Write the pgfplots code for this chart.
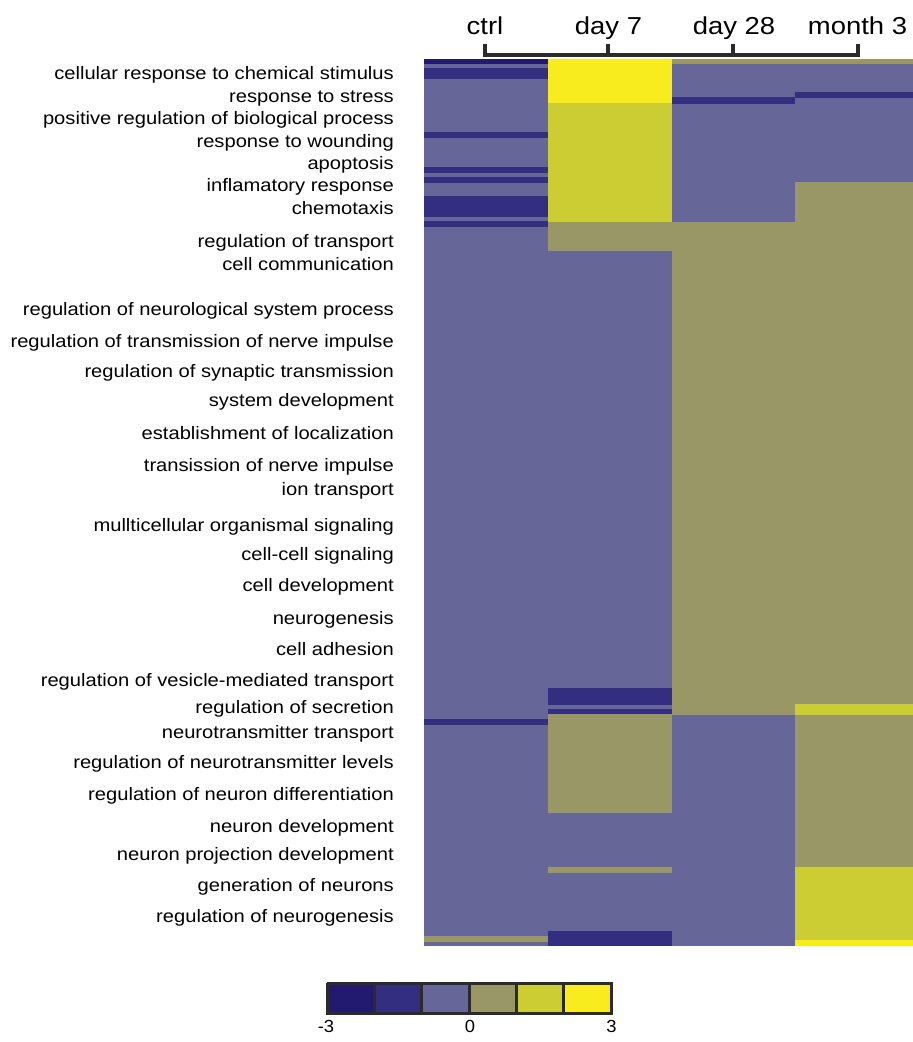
\documentclass[border=0pt]{standalone}
\usepackage{fontspec}
\setmainfont{Liberation Sans}
\usepackage{graphicx}
\usepackage{pgfplots}
\pgfplotsset{compat=1.18}
\definecolor{c1}{RGB}{34,26,112}
\definecolor{c2}{RGB}{51,46,128}
\definecolor{c3}{RGB}{102,102,153}
\definecolor{c4}{RGB}{153,151,102}
\definecolor{c5}{RGB}{204,204,51}
\definecolor{c6}{RGB}{248,236,30}
\definecolor{frame}{RGB}{43,43,43}
\newcommand{\lab}[2]{\node[anchor=mid east, inner sep=0pt, font=\fontsize{18}{20}\selectfont] at (axis cs:394,#1) {\scalebox{1.12}[1]{#2}};}
\newcommand{\head}[2]{\node[anchor=base, inner sep=0pt, font=\fontsize{24.5}{27}\selectfont] at (axis cs:#1,34) {\scalebox{1.12}[1]{#2}};}
\begin{document}
\begin{tikzpicture}
\begin{axis}[
  scale only axis, width=912pt, height=1042pt,
  xmin=0, xmax=912, ymin=0, ymax=1042, y dir=reverse,
  hide axis, clip=false, no markers,
  r1/.style={fill=c1, draw=c1, line width=0.2pt},
  r2/.style={fill=c2, draw=c2, line width=0.2pt},
  r3/.style={fill=c3, draw=c3, line width=0.2pt},
  r4/.style={fill=c4, draw=c4, line width=0.2pt},
  r5/.style={fill=c5, draw=c5, line width=0.2pt},
  r6/.style={fill=c6, draw=c6, line width=0.2pt},
]
\path (axis cs:0,0) rectangle (axis cs:912,1042);
% ---- ctrl ----
\addplot[r3] coordinates {(424,59.3) (548,59.3) (548,945) (424,945)};
\addplot[r1] coordinates {(424,59.3) (548,59.3) (548,63.3) (424,63.3)};
\addplot[r2] coordinates {(424,68.3) (548,68.3) (548,77.7) (424,77.7)};
\addplot[r2] coordinates {(424,131.7) (548,131.7) (548,137) (424,137)};
\addplot[r2] coordinates {(424,167.3) (548,167.3) (548,172.3) (424,172.3)};
\addplot[r2] coordinates {(424,176.7) (548,176.7) (548,181.7) (424,181.7)};
\addplot[r2] coordinates {(424,195.7) (548,195.7) (548,216) (424,216)};
\addplot[r2] coordinates {(424,221) (548,221) (548,226) (424,226)};
\addplot[r2] coordinates {(424,718.7) (548,718.7) (548,723.7) (424,723.7)};
\addplot[r4] coordinates {(424,935.7) (548,935.7) (548,940.7) (424,940.7)};
% ---- day 7 ----
\addplot[r3] coordinates {(548,59.3) (672,59.3) (672,945) (548,945)};
\addplot[r6] coordinates {(548,59.3) (672,59.3) (672,103.3) (548,103.3)};
\addplot[r5] coordinates {(548,103.3) (672,103.3) (672,221.7) (548,221.7)};
\addplot[r4] coordinates {(548,221.7) (672,221.7) (672,250) (548,250)};
\addplot[r2] coordinates {(548,688) (672,688) (672,704) (548,704)};
\addplot[r2] coordinates {(548,709) (672,709) (672,714) (548,714)};
\addplot[r4] coordinates {(548,714) (672,714) (672,812) (548,812)};
\addplot[r4] coordinates {(548,867) (672,867) (672,872) (548,872)};
\addplot[r2] coordinates {(548,930.7) (672,930.7) (672,945) (548,945)};
% ---- day 28 ----
\addplot[r3] coordinates {(672,59.3) (795,59.3) (795,945) (672,945)};
\addplot[r4] coordinates {(672,59.3) (795,59.3) (795,63.3) (672,63.3)};
\addplot[r2] coordinates {(672,97.3) (795,97.3) (795,103.3) (672,103.3)};
\addplot[r4] coordinates {(672,222) (795,222) (795,714) (672,714)};
% ---- month 3 ----
\addplot[r3] coordinates {(795,59.3) (912,59.3) (912,945) (795,945)};
\addplot[r4] coordinates {(795,59.3) (912,59.3) (912,63.3) (795,63.3)};
\addplot[r2] coordinates {(795,91.7) (912,91.7) (912,96.7) (795,96.7)};
\addplot[r4] coordinates {(795,182) (912,182) (912,867) (795,867)};
\addplot[r5] coordinates {(795,704) (912,704) (912,714) (795,714)};
\addplot[r5] coordinates {(795,867) (912,867) (912,940) (795,940)};
\addplot[r6] coordinates {(795,940) (912,940) (912,945) (795,945)};
% ---- bracket ----
\addplot[frame, line width=4pt, line join=miter] coordinates {(485,43.5) (485,55.3) (858.3,55.3) (858.3,43.5)};
\addplot[frame, line width=4pt] coordinates {(608.3,43.5) (608.3,55.3)};
\addplot[frame, line width=4pt] coordinates {(733.3,43.5) (733.3,55.3)};
\head{485}{ctrl}
\head{608.5}{day 7}
\head{734}{day 28}
\head{857.5}{month 3}
% ---- colour bar ----
\addplot[fill=c1, draw=frame, line width=3pt] coordinates {(327,983) (374.3,983) (374.3,1013) (327,1013) (327,983)};
\addplot[fill=c2, draw=frame, line width=3pt] coordinates {(374.3,983) (421.7,983) (421.7,1013) (374.3,1013) (374.3,983)};
\addplot[fill=c3, draw=frame, line width=3pt] coordinates {(421.7,983) (469,983) (469,1013) (421.7,1013) (421.7,983)};
\addplot[fill=c4, draw=frame, line width=3pt] coordinates {(469,983) (516.3,983) (516.3,1013) (469,1013) (469,983)};
\addplot[fill=c5, draw=frame, line width=3pt] coordinates {(516.3,983) (563.7,983) (563.7,1013) (516.3,1013) (516.3,983)};
\addplot[fill=c6, draw=frame, line width=3pt] coordinates {(563.7,983) (611,983) (611,1013) (563.7,1013) (563.7,983)};
\node[anchor=base, inner sep=0pt, font=\fontsize{17.5}{19}\selectfont] at (axis cs:326,1032) {\scalebox{1.05}[1]{-3}};
\node[anchor=base, inner sep=0pt, font=\fontsize{17.5}{19}\selectfont] at (axis cs:470,1032) {\scalebox{1.05}[1]{0}};
\node[anchor=base, inner sep=0pt, font=\fontsize{17.5}{19}\selectfont] at (axis cs:611.5,1032) {\scalebox{1.05}[1]{3}};
% ---- row labels ----
\lab{77}{cellular response to chemical stimulus}
\lab{99.5}{response to stress}
\lab{122}{positive regulation of biological process}
\lab{144.5}{response to wounding}
\lab{166.5}{apoptosis}
\lab{189}{inflamatory response}
\lab{211.5}{chemotaxis}
\lab{245}{regulation of transport}
\lab{268}{cell communication}
\lab{313}{regulation of neurological system process}
\lab{345}{regulation of transmission of nerve impulse}
\lab{375}{regulation of synaptic transmission}
\lab{404}{system development}
\lab{437}{establishment of localization}
\lab{469}{transission of nerve impulse}
\lab{493}{ion transport}
\lab{529}{mullticellular organismal signaling}
\lab{558}{cell-cell signaling}
\lab{589}{cell development}
\lab{622}{neurogenesis}
\lab{653}{cell adhesion}
\lab{684}{regulation of vesicle-mediated transport}
\lab{711}{regulation of secretion}
\lab{736}{neurotransmitter transport}
\lab{766}{regulation of neurotransmitter levels}
\lab{798}{regulation of neuron differentiation}
\lab{830}{neuron development}
\lab{858}{neuron projection development}
\lab{889}{generation of neurons}
\lab{920}{regulation of neurogenesis}
\end{axis}
\end{tikzpicture}
\end{document}
